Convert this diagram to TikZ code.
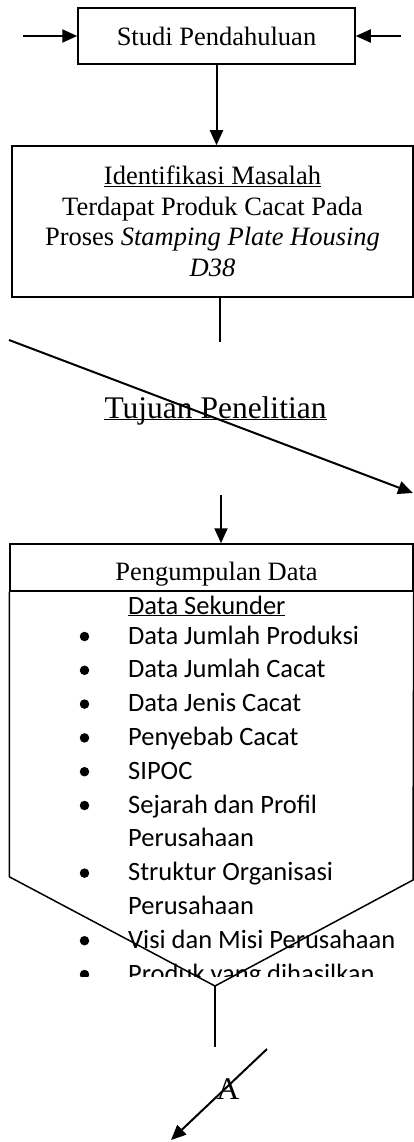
\documentclass[tikz,border=0pt]{standalone}
\usepackage{fontspec}
\setmainfont{Liberation Serif}
\newfontfamily\calibri{Carlito}
\usetikzlibrary{arrows.meta,positioning}

\begin{document}
\begin{tikzpicture}[x=1pt, y=1pt, on grid,
    kotak/.style={draw, line width=1.5pt, align=center, inner sep=0pt, font=\fontsize{26.5}{30.5}\selectfont},
    panah/.style={-{Triangle[length=15pt,width=13pt]}, line width=2pt},
    garis/.style={line width=2pt},
    isi/.style={anchor=base west, inner sep=0pt, font=\calibri\fontsize{26.5}{30}\selectfont},
    titik/.style={circle, fill, inner sep=0pt, minimum size=9.5pt},
    besar/.style={inner sep=0pt, font=\fontsize{31.5}{36}\selectfont}]
  \useasboundingbox (0,0) rectangle (414,-1142);
  \node[kotak, minimum width=277pt, minimum height=56pt] (studi) at (216.5,-36) {Studi Pendahuluan};
  \node[kotak, minimum width=401pt, minimum height=151pt, below=185.5pt of studi, xshift=-4pt] (ident) {\underline{Identifikasi Masalah}\\Terdapat Produk Cacat Pada\\Proses \textit{Stamping Plate Housing}\\\textit{D38}};
  \node[besar, anchor=base] (tujuan) at (215.5,-418) {Tujuan Penelitian};
  \draw[line width=1.2pt] ([yshift=-1.8pt]tujuan.base west) -- ([yshift=-1.8pt]tujuan.base east);
  \node[kotak, minimum width=403pt, minimum height=47pt, text height=25pt, text depth=0pt] (kumpul) at (211.5,-567.5) {\hspace{10pt}Pengumpulan Data};
  \coordinate (vtip) at (215,-986);
  \draw[line width=1.5pt] (kumpul.south west) -- ++(0,-285) -- (vtip) -- (413,-880) -- (kumpul.south east);
  % isi data sekunder
  \node[isi] (sekunder) at (128,-614) {\underline{Data Sekunder}};
  \begin{scope}
    \clip (0,-591) rectangle (414,-976);
    \foreach \n/\teks in {0/Data Jumlah Produksi, 1/Data Jumlah Cacat, 2/Data Jenis Cacat, 3/Penyebab Cacat, 4/SIPOC, 5/Sejarah dan Profil, 6/Perusahaan, 7/Struktur Organisasi, 8/Perusahaan, 9/Visi dan Misi Perusahaan, 10/Produk yang dihasilkan}
      \node[isi] (item\n) at (128,-644-33.8*\n) {\teks};
    \foreach \n in {0,1,2,3,4,5,7,9,10}
      \node[titik] (titik\n) at (84.5,-636.5-33.8*\n) {};
  \end{scope}
  % panah
  \coordinate (kiri) at (23,-36);
  \coordinate (kanan) at (401,-36);
  \draw[panah] (kiri) -- (studi.west);
  \draw[panah] (kanan) -- (studi.east);
  \draw[panah] (studi.south) -- (studi.south |- ident.north);
  \coordinate (identout) at (220,-342);
  \draw[garis] (identout |- ident.south) -- (identout);
  \coordinate (miringA) at (9,-340);
  \coordinate (miringB) at (413,-493);
  \draw[panah] (miringA) -- (miringB);
  \coordinate (kumpulin) at (221,-495);
  \draw[panah] (kumpulin) -- (kumpulin |- kumpul.north);
  \coordinate (vend) at (215,-1047);
  \draw[garis] (vtip) -- (vend);
  \coordinate (hurufA1) at (267,-1049);
  \coordinate (hurufA2) at (171,-1140);
  \draw[panah] (hurufA1) -- (hurufA2);
  \node[besar] (hurufA) at (228,-1089) {A};
\end{tikzpicture}
\end{document}
